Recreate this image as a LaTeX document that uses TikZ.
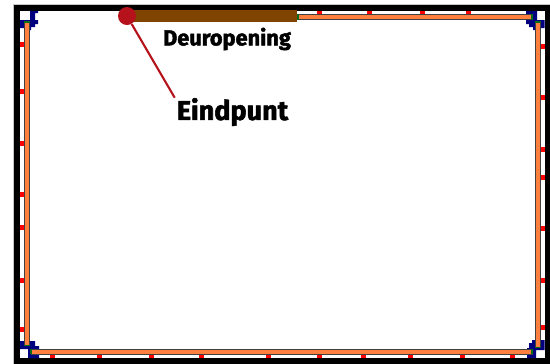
\documentclass[tikz,border=0pt]{standalone}
\usepackage{fontspec}
\newfontfamily\labelfont[FakeBold=2]{Fira Sans Bold}
\usepackage{tikz}
\definecolor{barorange}{HTML}{FF7F3F}
\definecolor{bardark}{HTML}{404040}
\definecolor{capgreen}{HTML}{0A6B1A}
\definecolor{doorbrown}{HTML}{7F4400}
\definecolor{pointred}{HTML}{B5121B}
\definecolor{bracketblue}{HTML}{00007F}
\tikzset{
  frameline/.style={draw=black, line width=3.6pt},
  bar/.style={draw=bardark, fill=barorange, line width=0.5pt},
  barcap/.style={draw=capgreen, line width=0.9pt},
  bracket/.style={fill=bracketblue},
  tick/.style={fill=red},
  textlabel/.style={font=\labelfont, inner sep=0pt, text=black},
}

\begin{document}
\begin{tikzpicture}[x=0.02cm, y=-0.02cm]
\useasboundingbox (0,0) rectangle (550,363);
\draw[draw=gray!45, line width=4.2pt] (17,8) rectangle (547.5,360.5);
\draw[frameline] (17,8) rectangle (547.5,360.5);
\fill[white] (20,11) rectangle (544.5,358);
% corners
\fill[bracket] (30,11) -- (38,11) -- (38,13) -- (35,13) -- (35,20) -- (38,20) -- (38,24) -- (35,24) -- (35,27) -- (31,27) -- (31,30) -- (24,30) -- (24,28) -- (20,28) -- (20,20) -- (30,20) -- cycle;
\fill[bracket] (537,11) -- (526,11) -- (526,24) -- (529,24) -- (529,27) -- (533,27) -- (533,30) -- (540,30) -- (540,28) -- (544.5,28) -- (544.5,20) -- (537,20) -- cycle;
\fill[bracket] (20,341) -- (35,341) -- (35,346) -- (39,346) -- (39,358) -- (28,358) -- (28,349) -- (20,349) -- cycle;
\fill[bracket] (544.5,340) -- (532,340) -- (532,343) -- (529,343) -- (529,348) -- (527,348) -- (527,358) -- (536,358) -- (536,350) -- (544.5,350) -- cycle;
% ticks
\foreach \y in {44,91,143,194,227,280,329} \fill[tick] (20,\y-2.5) rectangle (24,\y+2.5);
\foreach \y in {46,97,149,177,228,280,327} \fill[tick] (541,\y-2.5) rectangle (544.5,\y+2.5);
\foreach \x in {319,369,422,468} \fill[tick] (\x-2.5,11) rectangle (\x+2.5,14);
\foreach \x in {52,99,151,201,268,319,363,410,462,512} \fill[tick] (\x-2.5,354) rectangle (\x+2.5,358);
% walls
\draw[bar] (24.4,22) rectangle (29.6,345.5);
\draw[bar] (535.4,22) rectangle (540.6,347.5);
\draw[bar] (297,14.4) rectangle (532,19.6);
\draw[bar] (31,349.4) rectangle (532,354);
\draw[barcap] (24.4,22) -- (29.6,22);
\draw[barcap] (535.4,22) -- (540.6,22);
\draw[barcap] (24.4,345.5) -- (29.6,345.5);
\draw[barcap] (535.4,347.5) -- (540.6,347.5);
\draw[barcap] (532,14.4) -- (532,19.6);
\draw[barcap] (298,14.4) -- (298,19.6);
\draw[barcap] (31,349.4) -- (31,354);
\draw[barcap] (532,349.4) -- (532,354);
% door
\fill[doorbrown] (126,10) rectangle (297,22);
\node[textlabel, font=\labelfont\fontsize{12.4}{13}\selectfont] (deur) at (227,39) {Deuropening};
\node[textlabel, font=\labelfont\fontsize{15.4}{16}\selectfont] (eindpuntlabel) at (232.5,112) {Eindpunt};
\node[circle, fill=pointred, minimum size=0.36cm, inner sep=0pt] (eindpunt) at (127,16) {};
\draw[pointred, line width=1.2pt] (eindpunt) -- ([xshift=-1pt]eindpuntlabel.north west);
\end{tikzpicture}
\end{document}
